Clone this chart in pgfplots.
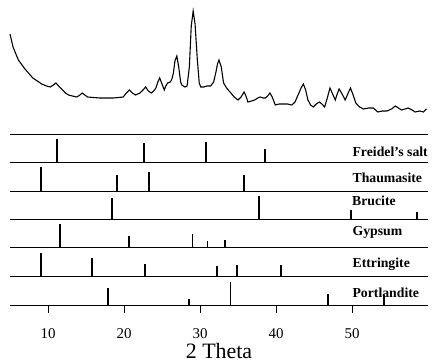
\documentclass[border=0pt]{standalone}
\usepackage{pgfplots}
\pgfplotsset{compat=1.18}
\usepackage{fontspec}
\setmainfont{Liberation Serif}
\tikzset{lab/.style={anchor=west, font=\fontsize{13.8}{15}\selectfont\bfseries, inner sep=0pt}}
\begin{document}
\begin{tikzpicture}
\useasboundingbox (0,0) rectangle (438bp,363bp);
\pgfplotsset{
  stick/.style={scale only axis, width=418bp, height=28bp,
    xmin=5, xmax=60, ymin=0, ymax=28,
    axis x line=bottom, axis y line=none,
    axis line style={-, line width=0.9pt},
    xtick=\empty, ytick=\empty, clip=false, anchor=south west},
  comb/.style={ycomb, black, line width=1.8pt, mark=none},
}
% top XRD pattern
\begin{axis}[scale only axis, width=418bp, height=129bp, at={(10bp,229bp)}, anchor=south west,
  xmin=5, xmax=60, ymin=0, ymax=129, axis lines=none, clip=false]
\addplot[black, line width=1.1pt, mark=none] coordinates {
(5.0,100) (5.4,87) (6.1,74) (6.97,65) (8.0,56) (8.6,53) (9.17,50) (9.8,48) (10.3,47) (10.7,49)
(11.05,51) (11.4,48) (11.8,45) (12.3,41) (12.7,39) (13.2,38) (13.8,37) (14.2,39) (14.5,41) (14.85,39)
(15.2,37) (16.0,36.5) (16.8,36) (17.7,36) (18.6,36) (19.3,36.5) (19.9,37) (20.3,41) (20.7,44) (21.1,41)
(21.5,39) (21.8,40) (22.1,41) (22.5,44) (22.85,47) (23.2,43) (23.6,41) (23.9,43) (24.2,46) (24.45,52)
(24.7,56) (25.0,50) (25.3,44) (25.5,48) (25.75,51) (26.1,52) (26.3,55) (26.5,61) (26.7,73) (26.95,78)
(27.2,67) (27.45,52) (27.6,49) (28.0,47) (28.3,48) (28.6,67) (28.85,108) (29.1,123) (29.35,110) (29.65,74)
(29.9,51) (30.1,47) (30.5,47) (30.9,48) (31.4,48) (31.8,52) (32.1,62) (32.3,70) (32.5,74) (32.8,67)
(33.1,51) (33.5,46) (33.95,42) (34.5,37) (35.0,34) (35.4,37) (35.8,42) (36.05,38) (36.3,32) (36.8,33)
(37.2,34) (37.6,36) (37.9,37) (38.3,36) (38.6,36) (38.9,38) (39.2,41) (39.5,37) (39.9,29) (40.4,30)
(40.9,30) (41.5,30) (42.1,29) (42.5,32) (42.9,39) (43.3,46) (43.6,50) (43.9,44) (44.2,34) (44.55,29)
(44.9,27) (45.3,30) (45.7,32) (46.05,30) (46.4,27) (46.75,36) (47.1,46) (47.45,40) (47.8,34) (48.05,40)
(48.3,45) (48.7,40) (49.1,34) (49.5,41) (49.8,46) (50.1,40) (50.5,31) (51.0,27) (51.5,25) (52.2,26)
(52.8,26) (53.4,22) (54.0,23) (54.6,23) (55.2,25) (55.7,28) (56.1,26) (56.5,24) (57.0,25) (57.4,26)
(57.9,24) (58.3,22) (58.9,23) (59.4,22) (59.8,25)
};
\end{axis}
% Freidel's salt
\begin{axis}[stick, at={(10bp,201bp)}]
\addplot[black, line width=0.9pt, mark=none] coordinates {(5,28) (60,28)};
\addplot[comb] coordinates {(11.2,23) (22.6,19) (30.8,20) (38.6,13)};
\node[lab] at (axis cs:50.05,10.5) {Freidel's salt};
\end{axis}
% Thaumasite
\begin{axis}[stick, at={(10bp,172bp)}]
\addplot[comb] coordinates {(9.1,24) (19.1,16) (23.3,19) (35.8,16)};
\node[lab] at (axis cs:50.05,13.5) {Thaumasite};
\end{axis}
% Brucite
\begin{axis}[stick, at={(10bp,143.5bp)}]
\addplot[comb] coordinates {(18.4,21.5) (37.8,23.5) (49.9,9.5) (58.6,7.5)};
\node[lab] at (axis cs:50.0,18.5) {Brucite};
\end{axis}
% Gypsum
\begin{axis}[stick, at={(10bp,115.5bp)}]
\addplot[comb] coordinates {(11.6,23.5) (20.7,11.5) (29.0,13.5) (31.0,6.5) (33.3,7.5)};
\node[lab] at (axis cs:50.05,15) {Gypsum};
\end{axis}
% Ettringite
\begin{axis}[stick, at={(10bp,87bp)}]
\addplot[comb] coordinates {(9.1,23) (15.8,18) (22.8,12) (32.2,10) (34.9,11) (40.7,11)};
\node[lab] at (axis cs:50.05,12) {Ettringite};
\end{axis}
% Portlandite
\begin{axis}[stick, at={(10bp,57.5bp)},
  xtick={10,20,30,40,50}, tick align=outside,
  major tick length=7bp, tick style={line width=1pt, black},
  /pgf/number format/assume math mode=true,
  xticklabel shift=0pt,
  xticklabel style={font=\fontsize{15}{17}\selectfont, anchor=center, inner sep=0pt, yshift=-21.5bp},
  xlabel={2 Theta}, xlabel style={font=\fontsize{22}{24}\selectfont, inner sep=0pt,
    at={(axis description cs:0.5,0)}, anchor=center, yshift=-45.5bp}]
\addplot[comb] coordinates {(17.9,17.5) (28.6,6.5) (34.0,23.5) (46.8,11.5) (54.2,10.5)};
\node[lab] at (axis cs:50.05,12.5) {Portlandite};
\end{axis}
\end{tikzpicture}
\end{document}
